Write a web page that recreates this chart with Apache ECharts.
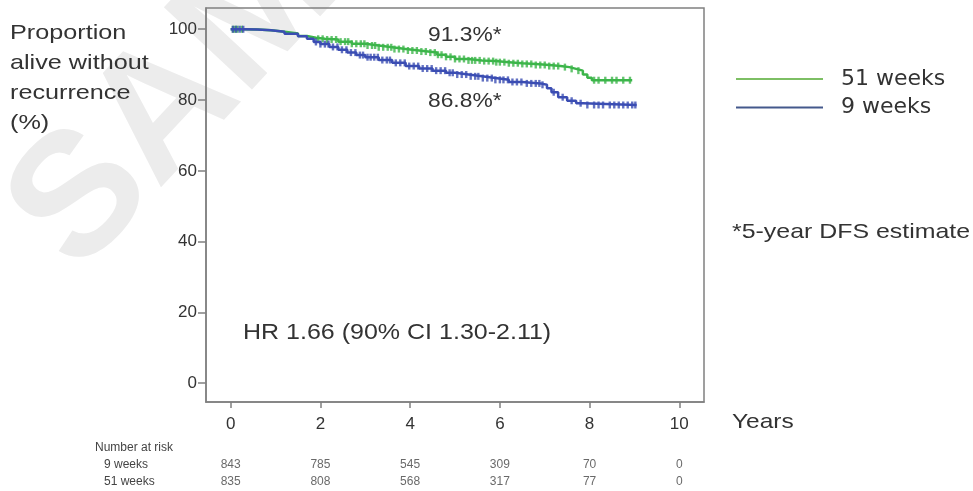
<!DOCTYPE html>
<html>
<head>
<meta charset="utf-8">
<script src="https://cdn.jsdelivr.net/npm/echarts@6/dist/echarts.min.js"></script>
<style>html,body{margin:0;padding:0;background:#fff}#c{width:973px;height:491px}</style>
</head>
<body>
<div id="c"></div>
<script>
// ---- data ----
const xTicks = [0, 2, 4, 6, 8, 10];
const yTicks = [0, 20, 40, 60, 80, 100];

// 51 weeks arm (Kaplan-Meier steps)
const t51 = [0, 0.3, 0.6, 0.9, 1.2, 1.5, 1.7, 1.9, 2.1, 2.4, 2.7, 3.0, 3.3, 3.6, 3.9, 4.2, 4.4, 4.6, 4.8, 5.0, 5.3, 5.6, 5.9, 6.2, 6.5, 6.8, 7.1, 7.35, 7.55, 7.7, 7.85, 7.95, 8.05, 8.95];
const s51 = [100, 99.9, 99.7, 99.3, 98.8, 98.1, 97.6, 97.3, 97.1, 96.5, 95.9, 95.4, 94.9, 94.4, 94.0, 93.7, 93.4, 92.8, 92.2, 91.6, 91.2, 91.0, 90.7, 90.4, 90.2, 89.9, 89.6, 89.3, 88.8, 88.3, 87.2, 86.3, 85.6, 85.6];
// 9 weeks arm
const t9 = [0, 0.3, 0.6, 0.9, 1.2, 1.5, 1.7, 1.85, 2.0, 2.2, 2.4, 2.6, 2.8, 3.0, 3.3, 3.6, 3.9, 4.2, 4.5, 4.8, 5.0, 5.3, 5.6, 5.9, 6.2, 6.5, 6.9, 7.05, 7.15, 7.3, 7.5, 7.7, 7.85, 9.05];
const s9 = [100, 99.9, 99.7, 99.3, 98.7, 98.0, 97.3, 96.4, 95.8, 95.0, 94.2, 93.4, 92.7, 92.1, 91.3, 90.5, 89.6, 88.9, 88.3, 87.7, 87.2, 86.7, 86.2, 85.7, 85.1, 84.7, 84.3, 83.3, 82.2, 80.8, 79.8, 79.1, 78.6, 78.6];

// censoring times
const cens51 = [0.05, 0.1, 0.15, 0.25, 1.95, 2.05, 2.15, 2.25, 2.35, 2.45, 2.55, 2.62, 2.7, 2.8, 2.9, 2.98, 3.05, 3.15, 3.22, 3.3, 3.4, 3.5, 3.58, 3.65, 3.75, 3.85, 3.95, 4.05, 4.15, 4.25, 4.35, 4.45, 4.55, 4.62, 4.7, 4.8, 4.9, 5.0, 5.1, 5.2, 5.3, 5.38, 5.45, 5.55, 5.65, 5.75, 5.85, 5.92, 6.0, 6.1, 6.2, 6.3, 6.4, 6.5, 6.6, 6.7, 6.8, 6.9, 7.0, 7.1, 7.2, 7.3, 7.45, 7.6, 7.75, 8.1, 8.2, 8.35, 8.5, 8.6, 8.75, 8.9];
const cens9 = [0.05, 0.12, 0.2, 0.28, 1.9, 2.0, 2.1, 2.18, 2.28, 2.38, 2.48, 2.58, 2.68, 2.78, 2.88, 2.95, 3.05, 3.12, 3.2, 3.28, 3.38, 3.48, 3.55, 3.68, 3.78, 3.88, 3.98, 4.08, 4.18, 4.28, 4.38, 4.48, 4.58, 4.68, 4.78, 4.88, 4.95, 5.05, 5.15, 5.25, 5.35, 5.45, 5.52, 5.62, 5.72, 5.82, 5.9, 6.0, 6.08, 6.18, 6.28, 6.38, 6.48, 6.6, 6.7, 6.8, 6.88, 6.95, 7.2, 7.4, 7.6, 7.8, 7.95, 8.1, 8.2, 8.3, 8.45, 8.55, 8.65, 8.75, 8.85, 8.95, 9.02];

// number at risk
const riskTimes = [0, 2, 4, 6, 8, 10];
const risk9 = [843, 785, 545, 309, 70, 0];
const risk51 = [835, 808, 568, 317, 77, 0];

const seriesNames = ['51 weeks', '9 weeks'];
// ---- end data ----

const FONT = 'Liberation Sans, Arial, Helvetica, sans-serif';
const GREEN = '#3cb54a', BLUE = '#3b4db3';

function pairs(ts, ss) { return ts.map((t, i) => [t, ss[i]]); }
function stepAt(ts, ss, t) { let v = ss[0]; for (let i = 0; i < ts.length; i++) { if (ts[i] <= t) v = ss[i]; } return v; }
function censPts(cs, ts, ss) { return cs.map(t => [t, stepAt(ts, ss, t)]); }
function txt(text, x, y, size, sx, color, extra) {
  return Object.assign({ type: 'text', x: x, y: y, scaleX: sx, z: 10,
    style: { text: text, fontSize: size, fontFamily: FONT, fill: color || '#333', align: 'left', verticalAlign: 'middle' } }, extra || {});
}

const chart = echarts.init(document.getElementById('c'), null, { renderer: 'canvas' });
const axisCol = '#808080';
const W = 175;
const rot = 47 * Math.PI / 180;

chart.setOption({
  animation: false,
  backgroundColor: '#fff',
  grid: [
    { left: 206, top: 8, right: 269, bottom: 89, show: true, borderColor: axisCol, borderWidth: 1.5, backgroundColor: 'transparent' },
    { left: 206, right: 269, top: 465, height: 16.7, show: false }
  ],
  xAxis: [
    { type: 'value', gridIndex: 0, min: -0.55, max: 10.55,
      axisLine: { show: true, onZero: false, lineStyle: { color: axisCol, width: 1.5 } },
      axisTick: { show: true, length: 6, customValues: xTicks, lineStyle: { color: axisCol, width: 1.5 } },
      axisLabel: { customValues: xTicks, margin: 14, fontSize: 17, fontFamily: FONT, color: '#333' },
      splitLine: { show: false } },
    { type: 'value', gridIndex: 1, min: -0.55, max: 10.55, show: false }
  ],
  yAxis: [
    { type: 'value', gridIndex: 0, min: -5.3, max: 106,
      axisLine: { show: true, onZero: false, lineStyle: { color: axisCol, width: 1.5 } },
      axisTick: { show: true, length: 8, customValues: yTicks, lineStyle: { color: axisCol, width: 1.5 } },
      axisLabel: { customValues: yTicks, margin: 9, fontSize: 17, fontFamily: FONT, color: '#333' },
      splitLine: { show: false } },
    { type: 'value', gridIndex: 1, min: 0, max: 1, show: false }
  ],
  legend: {
    orient: 'vertical', left: 731, top: 63, itemWidth: 87, itemHeight: 2, itemGap: 6.5, icon: 'rect',
    textStyle: { fontSize: 22, fontFamily: 'DejaVu Sans', color: '#333', padding: [0, 0, 0, 13] },
    data: [
      { name: seriesNames[0], itemStyle: { color: '#7dbf64' } },
      { name: seriesNames[1], itemStyle: { color: '#44598c' } }
    ]
  },
  series: [
    { name: seriesNames[0], type: 'line', step: 'end', symbol: 'none', xAxisIndex: 0, yAxisIndex: 0,
      lineStyle: { color: GREEN, width: 2.5 }, itemStyle: { color: GREEN }, data: pairs(t51, s51), z: 3 },
    { name: seriesNames[1], type: 'line', step: 'end', symbol: 'none', xAxisIndex: 0, yAxisIndex: 0,
      lineStyle: { color: BLUE, width: 2.5 }, itemStyle: { color: BLUE }, data: pairs(t9, s9), z: 4 },
    { name: '51 weeks censored', type: 'scatter', symbol: 'rect', symbolSize: [2.4, 7], xAxisIndex: 0, yAxisIndex: 0,
      itemStyle: { color: GREEN }, data: censPts(cens51, t51, s51), z: 3 },
    { name: '9 weeks censored', type: 'scatter', symbol: 'rect', symbolSize: [2.4, 7], xAxisIndex: 0, yAxisIndex: 0,
      itemStyle: { color: BLUE }, data: censPts(cens9, t9, s9), z: 4 },
    { name: 'risk', type: 'scatter', xAxisIndex: 1, yAxisIndex: 1, symbolSize: 1, itemStyle: { color: 'rgba(0,0,0,0)' },
      label: { show: true, position: 'inside', formatter: p => String(p.value[2]), fontSize: 12, fontFamily: FONT, color: '#444' },
      data: riskTimes.map((t, i) => [t, 1, risk9[i]]).concat(riskTimes.map((t, i) => [t, 0, risk51[i]])) }
  ],
  graphic: [
    { type: 'text', x: 43, y: 243, rotation: rot, z: -10, silent: true,
      style: { text: 'SAMPLE', fontSize: W, fontWeight: 'bold', fontFamily: FONT, fill: '#ececec', align: 'left', verticalAlign: 'middle' } },
    txt('Proportion', 10, 33, 21, 1.2),
    txt('alive without', 10, 63, 21, 1.2),
    txt('recurrence', 10, 93, 21, 1.2),
    txt('(%)', 10, 123, 21, 1.2),
    txt('91.3%*', 428, 35, 20, 1.14),
    txt('86.8%*', 428, 101, 20, 1.14),
    txt('HR 1.66 (90% CI 1.30-2.11)', 243, 333, 22, 1.137),
    txt('*5-year DFS estimate', 732, 232, 21, 1.186),
    txt('Years', 732, 422, 21, 1.166),
    txt('Number at risk', 95, 448, 12, 1.0, '#444'),
    txt('9 weeks', 104, 465, 12, 1.0, '#444'),
    txt('51 weeks', 104, 482, 12, 1.0, '#444')
  ]
});
</script>
</body>
</html>
